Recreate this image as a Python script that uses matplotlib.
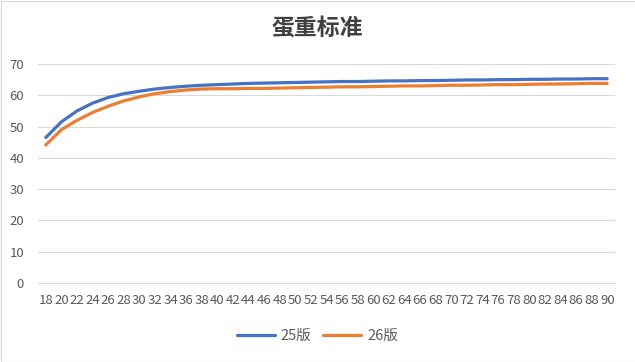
import matplotlib
matplotlib.use("Agg")
import matplotlib.pyplot as plt
from matplotlib.patches import Rectangle

plt.rcParams['font.family'] = ['Noto Sans CJK SC', 'DejaVu Sans']

weeks = list(range(18, 91, 2))
v25 = [46.5, 51.5, 55.0, 57.5, 59.3, 60.5, 61.3, 62.0, 62.5, 62.9, 63.2, 63.4,
       63.6, 63.8, 63.9, 64.0, 64.1, 64.2, 64.3, 64.4, 64.4, 64.5, 64.6, 64.6,
       64.7, 64.7, 64.8, 64.9, 64.9, 65.0, 65.0, 65.1, 65.1, 65.2, 65.2, 65.3, 65.3]
v26 = [44.1, 49.0, 52.0, 54.5, 56.5, 58.2, 59.5, 60.5, 61.2, 61.7, 62.0, 62.1,
       62.1, 62.2, 62.2, 62.3, 62.4, 62.5, 62.6, 62.7, 62.7, 62.8, 62.9, 63.0,
       63.0, 63.1, 63.2, 63.2, 63.3, 63.4, 63.4, 63.5, 63.6, 63.6, 63.7, 63.8, 63.8]
labels = ['25版', '26版']
title = '蛋重标准'

fig = plt.figure(figsize=(6.35, 3.62), dpi=100)
ax = fig.add_axes([38/635, 1-283/362, (615-38)/635, (283-64)/362])
x = list(range(len(weeks)))
ax.plot(x, v25, color='#4472C4', lw=2.3, label=labels[0], solid_capstyle='round')
ax.plot(x, v26, color='#ED7D31', lw=2.3, label=labels[1], solid_capstyle='round')
ax.set_xlim(-0.5, len(weeks)-0.5)
ax.set_ylim(0, 70)
ax.set_yticks(range(0, 71, 10))
ax.set_xticks(x)
ax.set_xticklabels([str(w) for w in weeks])
ax.tick_params(length=0, labelsize=9.5, colors='#595959', pad=8)
ax.tick_params(axis='y', pad=10)
ax.grid(axis='y', color='#D9D9D9', lw=0.8)
ax.set_axisbelow(True)
for s in ax.spines.values():
    s.set_visible(False)
ax.spines['bottom'].set_visible(True)
ax.spines['bottom'].set_color('#D9D9D9')
fig.text(0.5, 1-28/362, title, ha='center', va='center', fontsize=16.5,
         fontweight='bold', color='#404040')
leg = fig.legend(loc='center', bbox_to_anchor=(0.5, 1-336/362), ncol=2, frameon=False,
                 fontsize=10.5, handlelength=2.6, columnspacing=0.8, handletextpad=0.4)
for t in leg.get_texts():
    t.set_color('#595959')
fig.patches.append(Rectangle((0.5/635, 0.5/362), 1-1/635, 1-1/362, transform=fig.transFigure,
                             fill=False, edgecolor='#D9D9D9', lw=0.8))
fig.savefig('out.png', dpi=100)
